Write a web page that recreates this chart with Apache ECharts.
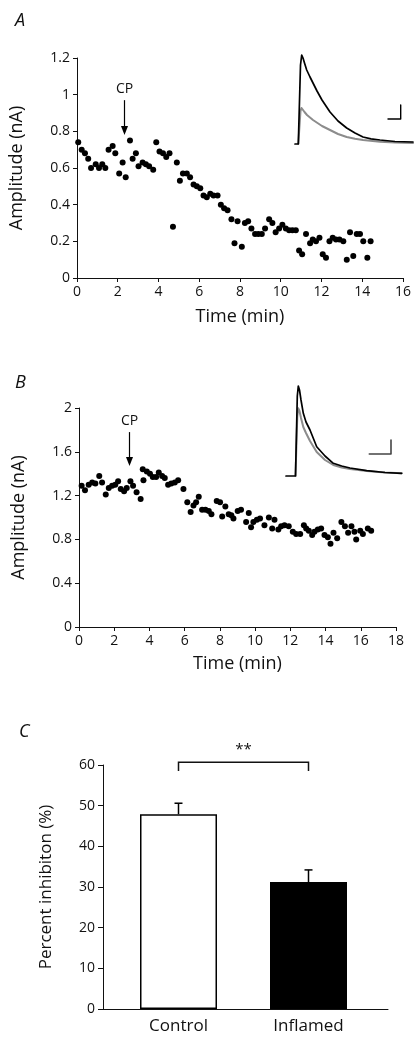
<!DOCTYPE html>
<html>
<head>
<meta charset="utf-8">
<script src="https://cdn.jsdelivr.net/npm/echarts@6/dist/echarts.min.js"></script>
<style>html,body{margin:0;padding:0;background:#fff;}#c{width:414px;height:1038px;}</style>
</head>
<body>
<div id="c"></div>
<script>
// ---------- Panel A data ----------
const aTime = [0.06,0.23,0.39,0.55,0.69,0.92,1.08,1.24,1.39,1.55,1.75,1.88,2.07,2.24,2.39,2.6,2.73,2.89,3.02,3.22,3.38,3.54,3.74,3.89,4.05,4.22,4.38,4.54,4.71,4.9,5.05,5.2,5.39,5.55,5.72,5.88,6.05,6.21,6.37,6.54,6.7,6.9,7.06,7.22,7.39,7.58,7.73,7.88,8.09,8.24,8.4,8.56,8.74,8.9,9.07,9.23,9.43,9.59,9.75,9.92,10.08,10.25,10.41,10.57,10.74,10.9,11.05,11.24,11.44,11.57,11.73,11.9,12.06,12.22,12.39,12.55,12.71,12.88,13.07,13.24,13.4,13.56,13.73,13.89,14.05,14.25,14.41];
const aAmp = [0.74,0.70,0.68,0.65,0.60,0.62,0.60,0.62,0.60,0.70,0.72,0.68,0.57,0.63,0.55,0.75,0.65,0.68,0.61,0.63,0.62,0.61,0.59,0.74,0.69,0.68,0.66,0.68,0.28,0.63,0.53,0.57,0.57,0.55,0.51,0.50,0.49,0.45,0.44,0.46,0.45,0.45,0.40,0.38,0.37,0.32,0.19,0.31,0.17,0.30,0.31,0.27,0.24,0.24,0.24,0.27,0.32,0.30,0.25,0.27,0.29,0.27,0.26,0.26,0.26,0.15,0.13,0.24,0.19,0.21,0.20,0.22,0.13,0.11,0.20,0.22,0.21,0.21,0.20,0.10,0.25,0.12,0.24,0.24,0.20,0.11,0.20];
const aCp = [2.3, 0.97, 0.78];   // time, arrow top, arrow tip (nA)
const aXTicks = [0, 16, 2];     // min, max, interval
const aYTicks = [0, 1.2, 0.2];

// Panel A inset traces (arbitrary units)
const insetATime  = [5,8.3,10.5,11.7,13,14.5,16.7,20,23,27,32,40,48,56.7,65,73,81,90,105,123];
const insetABlack = [1,1,80,90,87,82,75,68,62,54,45,33,24,17,12,8,6.2,5,3.5,3];
const insetAGrayTime = [8.3,10.5,11.5,13,14.5,17,23,32,40,48,56.7,65,73,90,105,123];
const insetAGray  = [1,34,37,35,33,30,25,19,15,11,8,6.2,5,3.2,2.5,2];
const insetAScaleT = [110.7,110.7,98];
const insetAScaleV = [40,26,26];

// ---------- Panel B data ----------
const bTime = [0.15,0.34,0.55,0.75,0.93,1.15,1.31,1.52,1.69,1.88,2.06,2.22,2.37,2.56,2.71,2.92,3.07,3.27,3.5,3.62,3.66,3.85,4.03,4.19,4.38,4.53,4.72,4.87,5.06,5.24,5.44,5.63,5.93,6.15,6.34,6.5,6.65,6.8,6.99,7.18,7.37,7.52,7.82,8.01,8.13,8.31,8.5,8.65,8.77,9.01,9.2,9.49,9.64,9.77,9.9,10.1,10.28,10.53,10.78,10.97,11.1,11.32,11.48,11.67,11.91,12.14,12.33,12.56,12.77,12.9,13.05,13.24,13.37,13.56,13.75,13.94,14.13,14.28,14.45,14.66,14.9,15.1,15.28,15.47,15.64,15.74,15.97,16.12,16.4,16.59];
const bAmp = [1.29,1.25,1.30,1.32,1.31,1.38,1.32,1.21,1.27,1.29,1.30,1.33,1.26,1.24,1.27,1.33,1.29,1.23,1.17,1.44,1.34,1.42,1.40,1.37,1.37,1.41,1.38,1.36,1.30,1.31,1.32,1.34,1.26,1.14,1.05,1.11,1.14,1.19,1.07,1.07,1.06,1.03,1.15,1.14,1.01,1.10,1.03,1.02,0.99,1.06,1.07,0.96,1.04,0.91,0.96,0.98,0.99,0.93,1.00,0.90,0.98,0.89,0.92,0.93,0.92,0.87,0.85,0.85,0.93,0.90,0.88,0.84,0.87,0.89,0.90,0.84,0.82,0.76,0.86,0.81,0.96,0.92,0.86,0.92,0.87,0.80,0.88,0.85,0.90,0.88];
const bCp = [2.85, 1.78, 1.47];
const bXTicks = [0, 18, 2];
const bYTicks = [0, 2, 0.4];

const insetBTime  = [6,15.5,17.3,18.3,19.5,21,23.3,26,30,36.7,45,53.3,61.7,70,86.7,105,121.7];
const insetBBlack = [0,0,80,90,86,76,62.7,54,46,29.3,20,12.7,10,8,5.3,3.5,2.7];
const insetBGrayTime = [15.5,17.3,18.3,19.5,21,23.3,26,30,36.7,45,53.3,61.7,70,86.7,105,121.7];
const insetBGray  = [0,60,67.7,65,58,49,43,35,24,16,11,8.5,7,5,3.4,2.7];
const insetBScaleT = [111,111,89.3];
const insetBScaleV = [36,22,22];

// ---------- Panel C data ----------
const cCategories = ['Control', 'Inflamed'];
const cValues = [47.9, 31.2];
const cErrors = [2.7, 3.0];
const cYTicks = [0, 60, 10];
const cSigLabel = '**';
const cSigLevel = [58.5, 60.7];

const FONT = '"Open Sans", "DejaVu Sans", sans-serif';
const zip = (a, b) => a.map((v, i) => [v, b[i]]);

const axisLine = {show: true, lineStyle: {color: '#111', width: 1}};
const axisTick = {show: true, inside: false, length: 4, lineStyle: {color: '#111', width: 1}};
const tickLabel = {color: '#111', fontSize: 14, fontFamily: FONT};
const nameStyle = {color: '#111', fontSize: 18, fontFamily: FONT};

function mainX(gi, t, nameGap) {
  return {gridIndex: gi, type: 'value', min: t[0], max: t[1], interval: t[2],
    axisLine, axisTick, axisLabel: Object.assign({margin: 7}, tickLabel), splitLine: {show: false},
    name: 'Time (min)', nameLocation: 'middle', nameGap: nameGap, nameTextStyle: nameStyle};
}
function mainY(gi, t, nameGap) {
  return {gridIndex: gi, type: 'value', min: t[0], max: t[1], interval: t[2],
    axisLine, axisTick, axisLabel: Object.assign({margin: 7}, tickLabel), splitLine: {show: false},
    name: 'Amplitude (nA)', nameLocation: 'middle', nameGap: nameGap, nameTextStyle: nameStyle};
}

function cpSeries(xi, yi, cp) {
  return {type: 'custom', xAxisIndex: xi, yAxisIndex: yi, clip: false, z: 5, silent: true,
    data: [cp],
    renderItem: function (params, api) {
      const t = api.value(0), top = api.value(1), tip = api.value(2);
      const p0 = api.coord([t, top]), p1 = api.coord([t, tip]);
      const x = Math.round(p0[0]) + 0.5;
      const headH = 9, headW = 3.5;
      return {type: 'group', children: [
        {type: 'line', shape: {x1: x, y1: p0[1], x2: x, y2: p1[1] - headH + 1}, style: {stroke: '#000', lineWidth: 1.2}},
        {type: 'polygon', shape: {points: [[x - headW, p1[1] - headH], [x + headW, p1[1] - headH], [x, p1[1]]]}, style: {fill: '#000'}},
        {type: 'text', x: x, y: p0[1] - 4, style: {text: 'CP', fill: '#111', fontSize: 14, fontFamily: FONT, align: 'center', verticalAlign: 'bottom'}}
      ]};
    }};
}

const traceLine = (xi, yi, data, color, w, z) => ({
  type: 'line', xAxisIndex: xi, yAxisIndex: yi, data: data, showSymbol: false, symbol: 'none',
  lineStyle: {color: color, width: w, join: 'round', cap: 'round'}, silent: true, z: z
});

const dot = {color: '#000', opacity: 1};

const option = {
  animation: false,
  backgroundColor: '#fff',
  title: [
    {text: 'A', left: 10, top: 7, textStyle: {fontStyle: 'italic', fontWeight: 'normal', fontSize: 18, color: '#111', fontFamily: FONT}},
    {text: 'B', left: 10, top: 369, textStyle: {fontStyle: 'italic', fontWeight: 'normal', fontSize: 18, color: '#111', fontFamily: FONT}},
    {text: 'C', left: 14, top: 718, textStyle: {fontStyle: 'italic', fontWeight: 'normal', fontSize: 18, color: '#111', fontFamily: FONT}}
  ],
  grid: [
    {left: 76, top: 58, width: 327, height: 220},   // 0 A main
    {left: 290, top: 40, width: 124, height: 110},  // 1 A inset
    {left: 79, top: 408, width: 317, height: 219},  // 2 B main
    {left: 280, top: 380, width: 124, height: 100}, // 3 B inset
    {left: 103, top: 765, width: 285, height: 244}, // 4 C axes
    {left: 113.5, top: 765, width: 260, height: 244} // 5 C bars
  ],
  xAxis: [
    mainX(0, aXTicks, 30),
    {gridIndex: 1, type: 'value', min: 0, max: 124, show: false},
    mainX(2, bXTicks, 28),
    {gridIndex: 3, type: 'value', min: 0, max: 124, show: false},
    {gridIndex: 4, type: 'value', min: 0, max: 1, axisLine, axisTick: {show: false}, axisLabel: {show: false}, splitLine: {show: false}},
    {gridIndex: 5, type: 'category', data: cCategories, axisLine: {show: false}, axisTick: {show: false},
      axisLabel: {color: '#111', fontSize: 17, fontFamily: FONT, margin: 9}}
  ],
  yAxis: [
    mainY(0, aYTicks, 51),
    {gridIndex: 1, type: 'value', min: -5, max: 105, show: false},
    mainY(2, bYTicks, 51),
    {gridIndex: 3, type: 'value', min: -4, max: 96, show: false},
    {gridIndex: 4, type: 'value', min: cYTicks[0], max: cYTicks[1], interval: cYTicks[2],
      axisLine, axisTick: {show: true, length: 5, lineStyle: {color: '#111'}}, axisLabel: Object.assign({margin: 8}, tickLabel),
      splitLine: {show: false}, name: 'Percent inhibiton (%)', nameLocation: 'middle', nameGap: 48,
      nameTextStyle: {color: '#111', fontSize: 17, fontFamily: FONT}},
    {gridIndex: 5, type: 'value', min: cYTicks[0], max: cYTicks[1], show: false}
  ],
  series: [
    {type: 'scatter', xAxisIndex: 0, yAxisIndex: 0, data: zip(aTime, aAmp), symbolSize: 6, itemStyle: dot},
    cpSeries(0, 0, aCp),
    traceLine(1, 1, zip(insetAGrayTime, insetAGray), '#8c8c8c', 2, 2),
    traceLine(1, 1, zip(insetATime, insetABlack), '#000', 1.7, 3),
    traceLine(1, 1, zip(insetAScaleT, insetAScaleV), '#000', 1.4, 3),
    {type: 'scatter', xAxisIndex: 2, yAxisIndex: 2, data: zip(bTime, bAmp), symbolSize: 6, itemStyle: dot},
    cpSeries(2, 2, bCp),
    traceLine(3, 3, zip(insetBGrayTime, insetBGray), '#8c8c8c', 2, 2),
    traceLine(3, 3, zip(insetBTime, insetBBlack), '#000', 1.7, 3),
    traceLine(3, 3, zip(insetBScaleT, insetBScaleV), '#444', 1.6, 3),
    {type: 'bar', xAxisIndex: 5, yAxisIndex: 5, barWidth: 77,
      data: cValues.map((v, i) => ({value: v, itemStyle: i === 0
        ? {color: '#fff', borderColor: '#000', borderWidth: 1.5}
        : {color: '#000', borderColor: '#000', borderWidth: 1.5}}))},
    {type: 'custom', xAxisIndex: 5, yAxisIndex: 5, clip: false, z: 5,
      data: cValues.map((v, i) => [i, v, cErrors[i]]),
      renderItem: function (params, api) {
        const x = api.value(0), v = api.value(1), e = api.value(2);
        const p0 = api.coord([x, v]), p1 = api.coord([x, v + e]);
        const st = {stroke: '#000', lineWidth: 1.5};
        return {type: 'group', children: [
          {type: 'line', shape: {x1: p0[0], y1: p0[1], x2: p1[0], y2: p1[1]}, style: st},
          {type: 'line', shape: {x1: p1[0] - 4, y1: p1[1], x2: p1[0] + 4, y2: p1[1]}, style: st}
        ]};
      }},
    {type: 'custom', xAxisIndex: 5, yAxisIndex: 5, clip: false, z: 5,
      data: [[0, 1, cSigLevel[0], cSigLevel[1]]],
      renderItem: function (params, api) {
        const a = api.value(0), b = api.value(1), lo = api.value(2), hi = api.value(3);
        const p0 = api.coord([a, lo]), p1 = api.coord([a, hi]), p2 = api.coord([b, hi]), p3 = api.coord([b, lo]);
        return {type: 'group', children: [
          {type: 'polyline', shape: {points: [p0, p1, p2, p3]}, style: {stroke: '#111', lineWidth: 1.5, fill: null}},
          {type: 'text', x: (p1[0] + p2[0]) / 2, y: p1[1] - 5,
            style: {text: cSigLabel, fill: '#111', fontSize: 15, fontFamily: FONT, align: 'center', verticalAlign: 'bottom'}}
        ]};
      }}
  ]
};

const chart = echarts.init(document.getElementById('c'), null, {renderer: 'canvas'});
chart.setOption(option);
</script>
</body>
</html>
